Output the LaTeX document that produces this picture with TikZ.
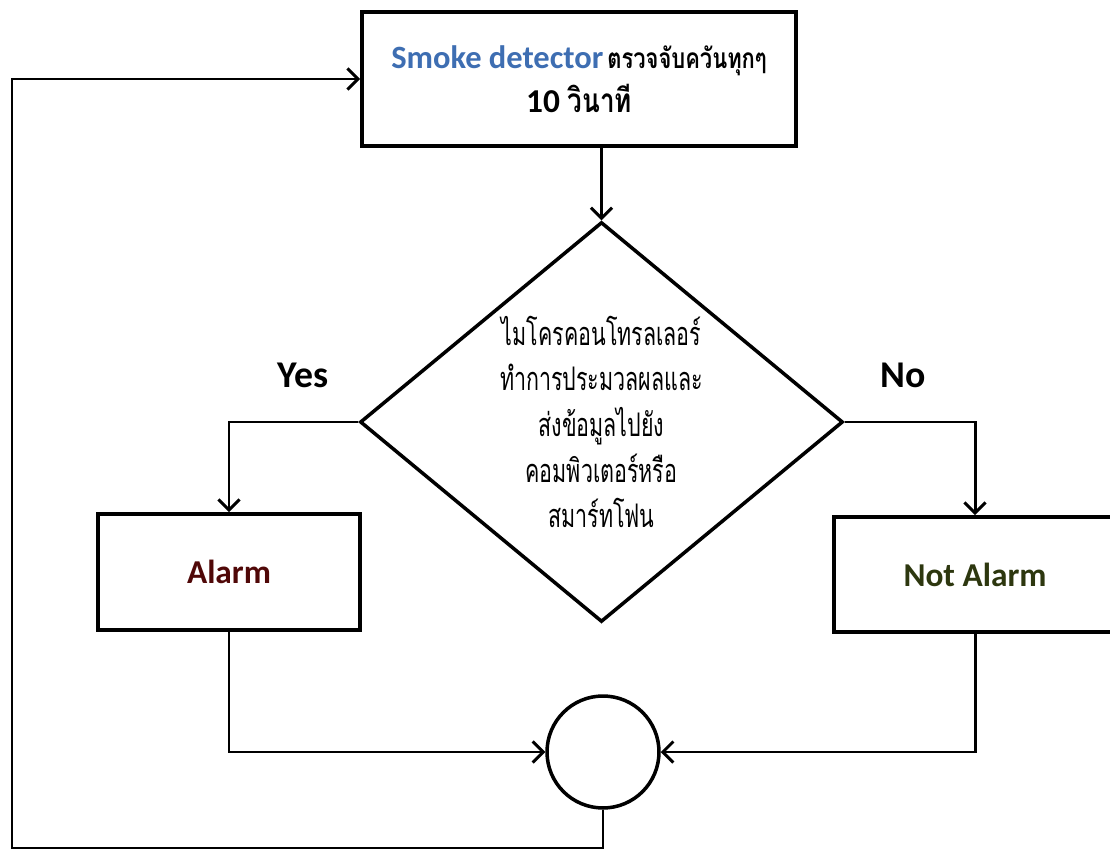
\documentclass[tikz,border=0pt]{standalone}
\usepackage{fontspec}
\setmainfont{Carlito}
\newfontfamily\thaifont[Script=Thai]{Loma}
\newfontfamily\thainarrow[Script=Thai,FakeStretch=0.78]{Loma}
\newfontfamily\thaicond[Script=Thai,FakeStretch=0.66]{Loma}
\usetikzlibrary{shapes.geometric,arrows.meta}
\definecolor{smokeblue}{RGB}{62,110,178}
\definecolor{alarmred}{RGB}{80,8,8}
\definecolor{notgreen}{RGB}{45,55,15}
\tikzset{
  box/.style={draw, line width=2.2pt, rectangle, align=center},
  decbox/.style={draw, line width=2pt, diamond, aspect=1.2, inner sep=0pt,
    minimum width=9.66cm, minimum height=8cm, align=center},
  arr/.style={line width=1.7pt, -{Straight Barb[length=6pt,width=12pt,line width=1.7pt]}},
  lbl/.style={font=\fontsize{21.5}{24}\selectfont\bfseries}
}
\begin{document}
\begin{tikzpicture}[x=0.02cm, y=-0.02cm]
        \useasboundingbox (0,0) rectangle (1110,851);
        % boxes
        \node[box, minimum width=8.68cm, minimum height=2.68cm] (top) at (579,79)
          {{\fontsize{18.5}{20}\selectfont\bfseries\color{smokeblue}Smoke detector}
           {\thainarrow\fontsize{16}{20}\selectfont\bfseries ตรวจจับควันทุกๆ}\\[4pt]
           {\fontsize{19}{20}\selectfont\bfseries 10 \thainarrow วินาที}};
        \node[decbox, font=\thaicond\fontsize{18.5}{26}\selectfont] (dec) at (601.5,422)
          {ไมโครคอนโทรลเลอร์\\ทำการประมวลผลและ\\ส่งข้อมูลไปยัง\\คอมพิวเตอร์หรือ\\สมาร์ทโฟน};
        \node[box, minimum width=5.24cm, minimum height=2.32cm] (alarm) at (229,572)
          {\fontsize{19}{22}\selectfont\bfseries\color{alarmred}Alarm};
        \node[box, minimum width=5.64cm, minimum height=2.3cm] (notalarm) at (975,574.5)
          {\fontsize{19}{22}\selectfont\bfseries\color{notgreen}Not Alarm};
        \node[draw, line width=2pt, circle, minimum size=2.24cm] (join) at (603,752) {};
        % labels
        \node[lbl] (yes) at (303,375) {Yes};
        \node[lbl] (no) at (903,375) {No};
        % loop corners
        \coordinate (loopbl) at (12,848);
        % arrows
        \draw[arr] (top.south -| dec.north) -- (dec.north);
        \draw[arr] (dec.west) -| (alarm.north);
        \draw[arr] (dec.east) -| (notalarm.north);
        \draw[arr] (alarm.south) |- (join.west);
        \draw[arr] (notalarm.south) |- (join.east);
        \draw[arr] (join.south) |- (loopbl) |- (top.west);
    \end{tikzpicture}
\end{document}
